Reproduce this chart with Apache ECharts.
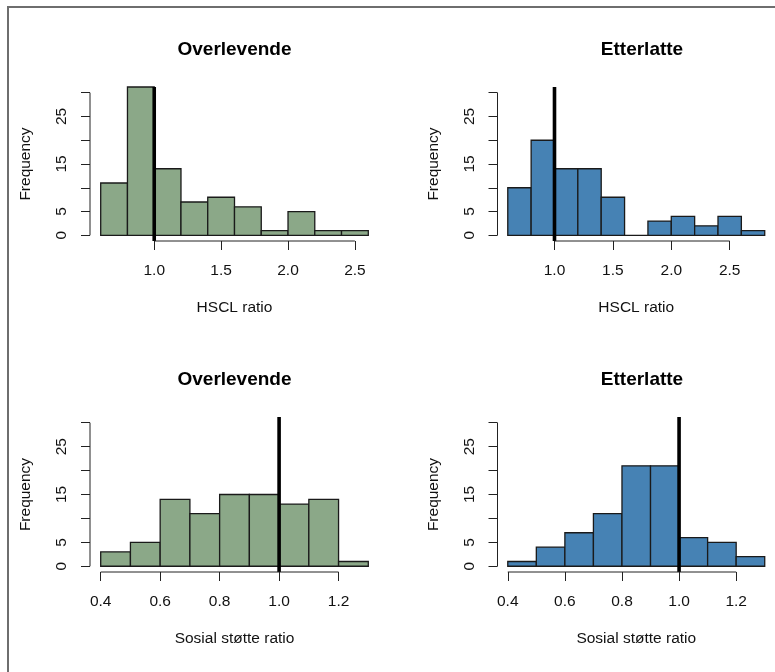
<!DOCTYPE html>
<html>
<head>
<meta charset="utf-8">
<script src="https://cdn.jsdelivr.net/npm/echarts@6/dist/echarts.min.js"></script>
<style>
html,body{margin:0;padding:0;background:#fff;}
#chart{width:775px;height:672px;}
</style>
</head>
<body>
<div id="chart"></div>
<script>
// ---- data ----
const panelTitles = ["Overlevende", "Etterlatte", "Overlevende", "Etterlatte"];
const xLabels = ["HSCL ratio", "HSCL ratio", "Sosial støtte ratio", "Sosial støtte ratio"];
const yLabel = "Frequency";

const hsclOverBreaks  = [0.6, 0.8, 1.0, 1.2, 1.4, 1.6, 1.8, 2.0, 2.2, 2.4, 2.6];
const hsclOverCounts  = [11, 37, 14, 7, 8, 6, 1, 5, 1, 1];
const hsclEtterBreaks = [0.6, 0.8, 1.0, 1.2, 1.4, 1.6, 1.8, 2.0, 2.2, 2.4, 2.6, 2.8];
const hsclEtterCounts = [10, 20, 14, 14, 8, 0, 3, 4, 2, 4, 1];
const sosOverBreaks   = [0.4, 0.5, 0.6, 0.7, 0.8, 0.9, 1.0, 1.1, 1.2, 1.3];
const sosOverCounts   = [3, 5, 14, 11, 15, 15, 13, 14, 1];
const sosEtterBreaks  = [0.4, 0.5, 0.6, 0.7, 0.8, 0.9, 1.0, 1.1, 1.2, 1.3];
const sosEtterCounts  = [1, 4, 7, 11, 21, 21, 6, 5, 2];

const hsclTicks = [1.0, 1.5, 2.0, 2.5];
const sosTicks  = [0.4, 0.6, 0.8, 1.0, 1.2];
const yTicks      = [0, 5, 10, 15, 20, 25, 30];
const yTickLabels = [0, 5, 15, 25];
const yLimit = [0, 30];
const refLine = 1.0;

// ---- styling / layout ----
const FONT = "'Liberation Sans', Arial, sans-serif";
const TXT = '#111';
const GREEN = '#8BA888';
const BLUE = '#4682B4';
const panels = [
  {breaks: hsclOverBreaks,  counts: hsclOverCounts,  ticks: hsclTicks, color: GREEN, grid: {left: 90,    top: 87,  width: 289, height: 154}},
  {breaks: hsclEtterBreaks, counts: hsclEtterCounts, ticks: hsclTicks, color: BLUE,  grid: {left: 497.5, top: 87,  width: 289, height: 154}},
  {breaks: sosOverBreaks,   counts: sosOverCounts,   ticks: sosTicks,  color: GREEN, grid: {left: 90,    top: 417, width: 289, height: 155}},
  {breaks: sosEtterBreaks,  counts: sosEtterCounts,  ticks: sosTicks,  color: BLUE,  grid: {left: 497.5, top: 417, width: 289, height: 155}}
];

const yMin = yLimit[0] - 0.04 * (yLimit[1] - yLimit[0]);
const yMax = yLimit[1] + 0.04 * (yLimit[1] - yLimit[0]);

const grid = [], xAxis = [], yAxis = [], series = [], graphic = [];

panels.forEach((p, i) => {
  const b0 = p.breaks[0], b1 = p.breaks[p.breaks.length - 1];
  const xMin = b0 - 0.04 * (b1 - b0);
  const xMax = b1 + 0.04 * (b1 - b0);
  grid.push(Object.assign({containLabel: false}, p.grid));
  xAxis.push({
    type: 'value', gridIndex: i, min: xMin, max: xMax,
    axisLine: {show: false, onZero: false},
    axisTick: {show: true, length: 9, customValues: p.ticks, lineStyle: {color: '#222', width: 1}},
    axisLabel: {customValues: p.ticks, formatter: v => v.toFixed(1), margin: 22,
      fontFamily: FONT, fontSize: 15.5, color: TXT},
    splitLine: {show: false},
    name: xLabels[i], nameLocation: 'middle', nameGap: 59,
    nameTextStyle: {fontFamily: FONT, fontSize: 15.5, color: TXT}
  });
  yAxis.push({
    type: 'value', gridIndex: i, min: yMin, max: yMax,
    axisLine: {show: false, onZero: false},
    axisTick: {show: true, length: 9, customValues: yTicks, lineStyle: {color: '#222', width: 1}},
    axisLabel: {customValues: yTickLabels, rotate: 90, margin: 20,
      fontFamily: FONT, fontSize: 15.5, color: TXT},
    splitLine: {show: false},
    name: yLabel, nameLocation: 'middle', nameGap: 56,
    nameTextStyle: {fontFamily: FONT, fontSize: 15.5, color: TXT}
  });
  const data = p.counts.map((c, k) => [p.breaks[k], p.breaks[k + 1], c]);
  series.push({
    type: 'custom', xAxisIndex: i, yAxisIndex: i, data: data, silent: true,
    renderItem: (params, api) => {
      const x0 = api.value(0), x1 = api.value(1), c = api.value(2);
      const pa = api.coord([x0, 0]);
      const pb = api.coord([x1, c]);
      const cs = params.coordSys;
      const shape = echarts.graphic.clipRectByRect(
        {x: pa[0], y: pb[1], width: pb[0] - pa[0], height: pa[1] - pb[1]},
        {x: cs.x, y: cs.y, width: cs.width, height: cs.height});
      if (!shape) return null;
      return {type: 'rect', shape: shape, style: {fill: p.color, stroke: '#1a1a1a', lineWidth: 1.3}};
    }
  });
  // reference line at 1.0 across the plotting region
  series.push({
    type: 'line', xAxisIndex: i, yAxisIndex: i, silent: true, clip: false,
    symbol: 'none', data: [[refLine, yMin], [refLine, yMax]],
    lineStyle: {color: '#000', width: 3.6, cap: 'butt'}
  });
  // x axis line between first and last tick
  series.push({
    type: 'line', xAxisIndex: i, yAxisIndex: i, silent: true, clip: false,
    symbol: 'none', data: [[p.ticks[0], yMin], [p.ticks[p.ticks.length - 1], yMin]],
    lineStyle: {color: '#222', width: 1}
  });
  // y axis line between first and last tick
  series.push({
    type: 'line', xAxisIndex: i, yAxisIndex: i, silent: true, clip: false,
    symbol: 'none', data: [[xMin, yTicks[0]], [xMin, yTicks[yTicks.length - 1]]],
    lineStyle: {color: '#222', width: 1}
  });
  graphic.push({
    type: 'text', x: p.grid.left + p.grid.width / 2, y: (i < 2 ? 50 : 380),
    style: {text: panelTitles[i], fontFamily: FONT, fontSize: 19, fontWeight: 'bold',
      fill: '#000', textAlign: 'center', textVerticalAlign: 'middle'}
  });
});

graphic.push({
  type: 'rect', shape: {x: 8, y: 7, width: 820, height: 720},
  style: {fill: 'none', stroke: '#6e6e6e', lineWidth: 2}, z: 100
});

const chart = echarts.init(document.getElementById('chart'), null, {renderer: 'canvas'});
chart.setOption({
  backgroundColor: '#fff',
  animation: false,
  grid: grid, xAxis: xAxis, yAxis: yAxis, series: series, graphic: graphic
});
</script>
</body>
</html>
